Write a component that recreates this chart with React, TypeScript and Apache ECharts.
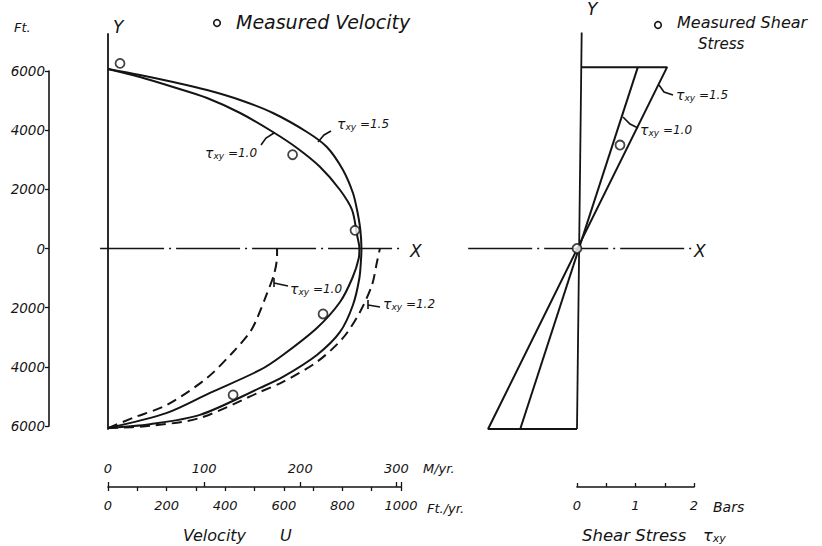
import React, { useEffect, useRef } from 'react';
import * as echarts from 'echarts';

// ---------- Data ----------
// Velocity profiles: [velocity u (ft/yr), distance from centre line y (ft)]
const velTau15: number[][] = [
  [0, 6070], [109, 5865], [222, 5628], [338, 5358], [451, 5020], [563, 4580],
  [679, 3938], [747, 3431], [802, 2654], [836, 1876], [850, 1301], [861, 650], [865, 0],
  [864, -300], [858, -997], [836, -1909], [792, -2821], [713, -3598], [597, -4341],
  [519, -4713], [314, -5625], [143, -5940], [0, -6070],
];
const velTau10: number[][] = [
  [0, 6070], [109, 5797], [222, 5459], [338, 5088], [451, 4580], [563, 3938],
  [645, 3397], [724, 2755], [792, 1977], [833, 1301], [850, 456], [858, 0],
  [856, -321], [834, -997], [792, -1807], [713, -2686], [597, -3598],
  [519, -4105], [348, -4882], [201, -5557], [0, -6070],
];
const velTau10Dashed: number[][] = [
  [0, -6070], [85, -5726], [201, -5287], [338, -4375], [427, -3497], [485, -2821],
  [508, -2378], [542, -1537], [567, -862], [577, -253], [577, 0],
];
const velTau12Dashed: number[][] = [
  [0, -6070], [143, -5995], [314, -5726], [519, -4848], [597, -4510], [713, -3834],
  [802, -3024], [860, -2145], [901, -1233], [918, -456], [928, 0],
];
const measuredVelocity: number[][] = [
  [41, 6257], [630, 3170], [843, 615], [734, -2213], [427, -4949],
];

// Shear stress: [tau (bars), y (ft)]
const shearTau15: number[][] = [[0.07, 6130], [1.54, 6130], [-1.52, -6100], [0, -6100]];
const shearTau10: number[][] = [[1.04, 6130], [-0.97, -6100]];
const measuredShear: number[][] = [[0, 0], [0.735, 3497]];

// Axis extents / ticks
const depthMin = -6000;
const depthMax = 6000;
const depthStep = 2000;
const velFtMax = 1000;
const velFtStep = 100;
const velFtLabelStep = 200;
const FT_PER_M = 3.2808;
const velMStep = 100;
const shearMax = 2;
const shearStep = 0.5;
// Extents of the drawing areas (a little wider than the printed scales)
const plotYMin = -6200;
const plotYMax = 7400;
const velPlotMin = -50;
const shearPlotMin = -2;

// Reference lines (Y axes and centre lines), data coords
const leftYLine: number[][] = [[0, 7280], [0, -6130]];
const leftXLine: number[][] = [[-27, 0], [996, 0]];
const rightYLine: number[][] = [[0.08, 7300], [0.0, -6100]];
const rightXLine: number[][] = [[-1.86, 0], [1.98, 0]];

const INK = '#141414';
const FONT = 'DejaVu Sans';

// layout (pixels)
const VEL_LEFT = 108, VEL_W = 293, SH_LEFT = 577, SH_W = 117, TOP = 71, H = 355;
const pxPerFt = VEL_W / velFtMax;
const pxPerBar = SH_W / shearMax;
const pxPerDepth = H / (depthMax - depthMin);
const dataTop = TOP - (plotYMax - depthMax) * pxPerDepth;
const dataH = (plotYMax - plotYMin) * pxPerDepth;

const tauRich = (size: number) => ({
  t: { fontSize: size + 2, fontStyle: 'italic', fontFamily: FONT, fill: INK },
  s: { fontSize: size - 3, fontStyle: 'italic', fontFamily: FONT, fill: INK, padding: [6, 0, 0, 0] },
  n: { fontSize: size, fontStyle: 'italic', fontFamily: FONT, fill: INK },
});

function txt(x: number, y: number, text: string, size = 14, align = 'left') {
  return {
    type: 'text', x, y, z: 10,
    style: { text, fill: INK, fontSize: size, fontStyle: 'italic', fontFamily: FONT, align, verticalAlign: 'middle' },
  };
}
function tau(x: number, y: number, value: string, size = 12) {
  return {
    type: 'text', x, y, z: 10,
    style: {
      text: value ? `{t|τ}{s|xy}{n| =${value}}` : '{t|τ}{s|xy}',
      rich: tauRich(size), fill: INK, fontFamily: FONT, verticalAlign: 'middle',
    },
  };
}
function leader(points: number[][]) {
  return { type: 'polyline', z: 10, shape: { points }, style: { stroke: INK, lineWidth: 1.6, fill: null } };
}

export default function App() {
  const ref = useRef<HTMLDivElement>(null);
  useEffect(() => {
    if (!ref.current) return;
    const chart = echarts.init(ref.current, undefined, { renderer: 'svg' });
    const labelStyle = { color: INK, fontSize: 13, fontStyle: 'italic', fontFamily: FONT };
    const curve = (name: string, data: number[][], dashed: boolean) => ({
      name, type: 'line', xAxisIndex: 0, yAxisIndex: 0, data, smooth: 0.3, symbol: 'none',
      clip: false, z: 3, lineStyle: { color: INK, width: 2, type: dashed ? [10, 6] : 'solid' },
    });
    const plain = (data: number[][], left: boolean, type: any, width = 1.8) => ({
      type: 'line', xAxisIndex: left ? 0 : 3, yAxisIndex: left ? 0 : 2, data, symbol: 'none', clip: false,
      z: 2, silent: true, lineStyle: { color: INK, width, type },
    });
    const hiddenX = (gridIndex: number, min: number, max: number) => ({ gridIndex, type: 'value', min, max, show: false, splitLine: { show: false } });
    const hiddenY = (gridIndex: number, min: number, max: number) => ({ gridIndex, type: 'value', min, max, show: false, splitLine: { show: false } });

    chart.setOption({
      animation: false,
      backgroundColor: '#ffffff',
      grid: [
        // 0: velocity drawing area
        { left: VEL_LEFT + velPlotMin * pxPerFt, top: dataTop, width: (velFtMax - velPlotMin) * pxPerFt, height: dataH },
        // 1: velocity printed scales
        { left: VEL_LEFT, top: TOP, width: VEL_W, height: H },
        // 2: shear drawing area
        { left: SH_LEFT + shearPlotMin * pxPerBar, top: dataTop, width: (shearMax - shearPlotMin) * pxPerBar, height: dataH },
        // 3: shear printed scale
        { left: SH_LEFT, top: TOP, width: SH_W, height: H },
      ],
      xAxis: [
        hiddenX(0, velPlotMin, velFtMax),
        {
          gridIndex: 1, type: 'value', min: 0, max: velFtMax, interval: velFtStep, position: 'bottom', offset: 61,
          axisLine: { show: true, onZero: false, lineStyle: { color: INK, width: 1.6 } },
          axisTick: { show: true, length: 4, lineStyle: { color: INK, width: 1.3 } },
          axisLabel: { ...labelStyle, margin: 12, formatter: (v: number) => (v % velFtLabelStep === 0 ? String(v) : '') },
          splitLine: { show: false },
        },
        {
          gridIndex: 1, type: 'value', min: 0, max: velFtMax / FT_PER_M, interval: velMStep, position: 'bottom', offset: 61,
          axisLine: { show: false, onZero: false },
          axisTick: { show: true, inside: true, length: 5, lineStyle: { color: INK, width: 1.3 } },
          axisLabel: { ...labelStyle, inside: true, margin: 12, formatter: (v: number) => (v % velMStep === 0 ? String(v) : '') },
          splitLine: { show: false },
        },
        hiddenX(2, shearPlotMin, shearMax),
        {
          gridIndex: 3, type: 'value', min: 0, max: shearMax, interval: shearStep, position: 'bottom', offset: 61,
          axisLine: { show: true, onZero: false, lineStyle: { color: INK, width: 1.6 } },
          axisTick: { show: true, inside: true, length: 4, lineStyle: { color: INK, width: 1.3 } },
          axisLabel: { ...labelStyle, margin: 12, formatter: (v: number) => (v % 1 === 0 ? String(v) : '') },
          splitLine: { show: false },
        },
      ],
      yAxis: [
        hiddenY(0, plotYMin, plotYMax),
        {
          gridIndex: 1, type: 'value', min: depthMin, max: depthMax, interval: depthStep, position: 'left', offset: 59,
          axisLine: { show: true, onZero: false, lineStyle: { color: INK, width: 1.6 } },
          axisTick: { show: true, length: 4, lineStyle: { color: INK, width: 1.3 } },
          axisLabel: { ...labelStyle, fontSize: 13.5, margin: 4, formatter: (v: number) => String(Math.abs(v)) },
          splitLine: { show: false },
        },
        hiddenY(2, plotYMin, plotYMax),
        hiddenY(3, depthMin, depthMax),
      ],
      series: [
        plain(leftYLine, true, 'solid', 1.8),
        plain(leftXLine, true, [64, 5, 2, 5], 1.6),
        curve('τxy=1.5', velTau15, false),
        curve('τxy=1.0', velTau10, false),
        curve('τxy=1.0 (dashed)', velTau10Dashed, true),
        curve('τxy=1.2', velTau12Dashed, true),
        {
          name: 'Measured Velocity', type: 'scatter', xAxisIndex: 0, yAxisIndex: 0, data: measuredVelocity,
          symbol: 'circle', symbolSize: 9, clip: false, z: 5,
          itemStyle: { color: '#ffffff', borderColor: INK, borderWidth: 1.8 },
        },
        plain(rightYLine, false, 'solid', 1.8),
        plain(rightXLine, false, [64, 5, 2, 5], 1.6),
        {
          name: 'Shear τxy=1.5', type: 'line', xAxisIndex: 3, yAxisIndex: 2, data: shearTau15, symbol: 'none',
          clip: false, z: 3, lineStyle: { color: INK, width: 2 },
        },
        {
          name: 'Shear τxy=1.0', type: 'line', xAxisIndex: 3, yAxisIndex: 2, data: shearTau10, symbol: 'none',
          clip: false, z: 3, lineStyle: { color: INK, width: 2 },
        },
        {
          name: 'Measured Shear Stress', type: 'scatter', xAxisIndex: 3, yAxisIndex: 2, data: measuredShear,
          symbol: 'circle', symbolSize: 9, clip: false, z: 5,
          itemStyle: { color: '#ffffff', borderColor: INK, borderWidth: 1.8 },
        },
      ],
      graphic: [
        txt(14, 27, 'Ft.', 13),
        txt(113, 27, 'Y', 17),
        txt(587, 9, 'Y', 17),
        txt(410, 251, 'X', 17),
        txt(694, 251, 'X', 17),
        { type: 'circle', z: 10, shape: { cx: 217, cy: 23, r: 3.3 }, style: { stroke: INK, lineWidth: 1.6, fill: '#fff' } },
        txt(236, 22, 'Measured Velocity', 19),
        { type: 'circle', z: 10, shape: { cx: 658, cy: 25, r: 3.3 }, style: { stroke: INK, lineWidth: 1.6, fill: '#fff' } },
        txt(677, 22, 'Measured Shear', 16),
        txt(698, 44, 'Stress', 15),
        txt(423, 468, 'M/yr.', 13),
        txt(427, 508, 'Ft./yr.', 13),
        txt(183, 535, 'Velocity', 16),
        txt(280, 535, 'U', 16),
        txt(713, 507, 'Bars', 14),
        txt(582, 535, 'Shear Stress', 16.5),
        tau(703, 535, '', 14),
        tau(205, 153, '1.0', 12),
        leader([[261, 145], [266, 138], [274, 133]]),
        tau(337, 124, '1.5', 12),
        leader([[318, 142], [324, 135], [331, 131]]),
        tau(290, 289, '1.0', 12),
        leader([[274, 278], [274, 287]]),
        leader([[274, 283], [288, 286]]),
        tau(383, 304, '1.2', 12),
        leader([[368, 300], [368, 309]]),
        leader([[368, 305], [380, 307]]),
        tau(676, 95, '1.5', 12),
        leader([[659, 85], [664, 92], [673, 95]]),
        tau(640, 130, '1.0', 12),
        leader([[623, 117], [630, 124], [638, 128]]),
      ],
    });
    return () => chart.dispose();
  }, []);
  return <div ref={ref} style={{ position: 'fixed', left: 0, top: 0, width: 822, height: 546, background: '#fff' }} />;
}
